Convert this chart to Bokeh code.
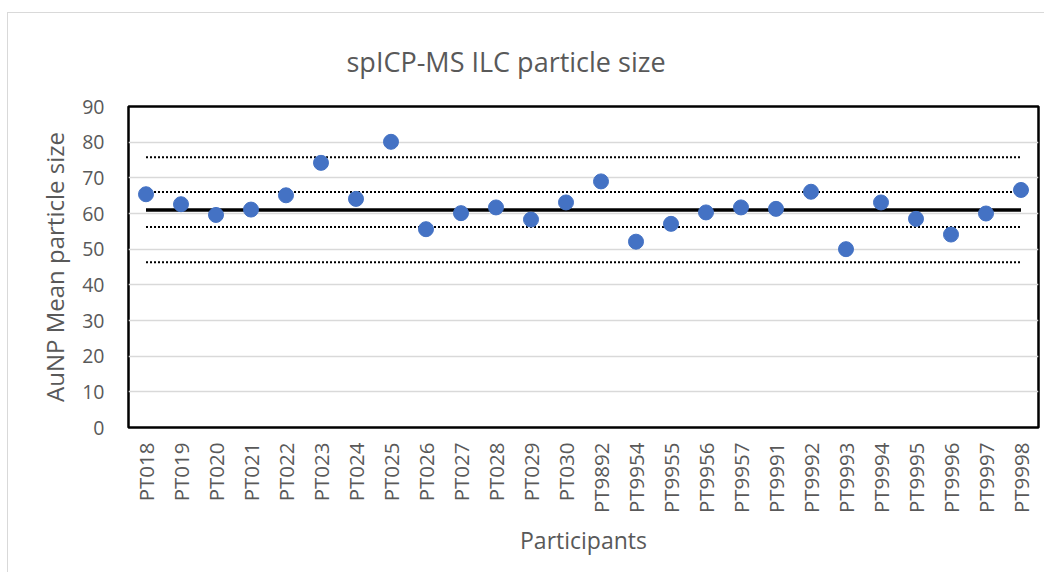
from bokeh.plotting import figure
from bokeh.models import FactorRange, Range1d, SingleIntervalTicker
from bokeh.embed import file_html
from bokeh.resources import INLINE

participants = ["PT018", "PT019", "PT020", "PT021", "PT022", "PT023", "PT024", "PT025",
                "PT026", "PT027", "PT028", "PT029", "PT030", "PT9892", "PT9954", "PT9955",
                "PT9956", "PT9957", "PT9991", "PT9992", "PT9993", "PT9994", "PT9995",
                "PT9996", "PT9997", "PT9998"]
mean_size = [65.4, 62.6, 59.6, 61.1, 65.1, 74.2, 64.1, 80.1, 55.6, 60.1, 61.7, 58.3, 63.1,
             69.0, 52.1, 57.1, 60.3, 61.7, 61.3, 66.1, 50.0, 63.1, 58.5, 54.1, 60.0, 66.6]
assigned_mean = 61.0
limit_lines = [75.8, 66.0, 56.2, 46.3]

FONT = "Open Sans"
GRAY = "#595959"

p = figure(width=1037, height=560, output_backend="svg", toolbar_location=None,
           x_range=FactorRange(*participants, range_padding=0),
           y_range=Range1d(0, 90))
p.min_border_left = 120
p.min_border_right = 7
p.min_border_top = 93
p.min_border_bottom = 146
p.styles = {"border-left": "1px solid #d9d9d9", "border-top": "1px solid #d9d9d9",
            "margin-left": "7px", "margin-top": "12px"}

p.title.text = "spICP-MS ILC particle size"
p.title.align = "left"
p.title.offset = 218
p.title.standoff = 53
p.title.text_font = FONT
p.title.text_font_size = "27px"
p.title.text_font_style = "normal"
p.title.text_color = GRAY

p.outline_line_color = "black"
p.outline_line_width = 2.5
p.outline_line_alpha = 1

p.xgrid.grid_line_color = None
p.ygrid.grid_line_color = "#d9d9d9"
p.ygrid.grid_line_width = 1.5
p.yaxis.ticker = SingleIntervalTicker(interval=10)

for ax in (p.xaxis, p.yaxis):
    ax.axis_line_color = None
    ax.major_tick_line_color = None
    ax.minor_tick_line_color = None
    ax.major_label_text_font = FONT
    ax.major_label_text_color = GRAY
    ax.axis_label_text_font = FONT
    ax.axis_label_text_color = GRAY
    ax.axis_label_text_font_style = "normal"

p.yaxis.major_label_text_font_size = "19.5px"
p.yaxis.major_label_standoff = 18
p.yaxis.axis_label = "AuNP Mean particle size"
p.yaxis.axis_label_text_font_size = "24px"
p.yaxis.axis_label_standoff = 8

p.xaxis.major_label_orientation = 1.5708
p.xaxis.major_label_text_font_size = "20.5px"
p.xaxis.major_label_standoff = 9
p.xaxis.axis_label = "Participants"
p.xaxis.axis_label_text_font_size = "23px"
p.xaxis.axis_label_standoff = 8

x_ends = [participants[0], participants[-1]]
for v in limit_lines:
    p.line(x=x_ends, y=[v, v], line_color="black", line_width=2, line_dash="2 2")
p.line(x=x_ends, y=[assigned_mean, assigned_mean], line_color="black", line_width=3.5)

p.scatter(x=participants, y=mean_size, size=15, fill_color="#4472C4", line_color="#4472C4")

open("out.html", "w").write(file_html(p, INLINE))
